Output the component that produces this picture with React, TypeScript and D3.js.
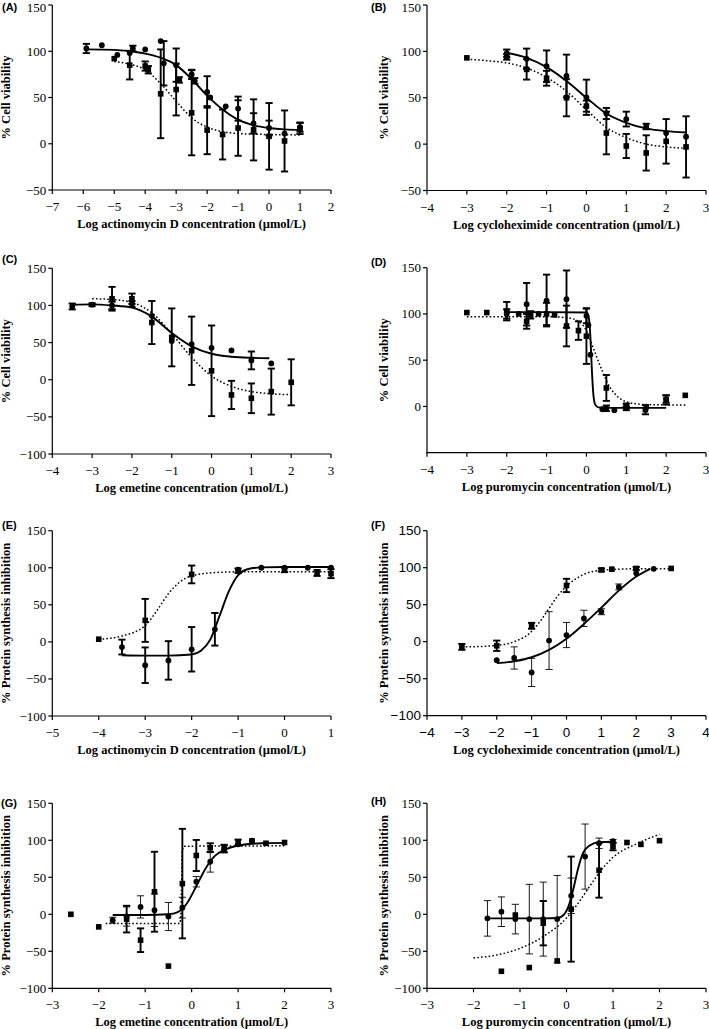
import React from 'react';
import * as d3 from 'd3';

type Pt = [number, number, number]; // [log conc, value, sd]
type Knot = [number, number];

// ---------- Panel A: actinomycin D viability ----------
const A_circles: Pt[] = [[-5.9,103,5],[-5.4,106.5,0],[-4.9,96,0],[-4.5,98,0],[-4.4,103,3],[-4,102,0],[-3.5,111,0],[-3.4,87,24],[-3,85,18],[-2.5,75,5],[-2.4,68,3],[-2,56,17],[-1.9,50,0],[-1.4,40.5,0],[-1,38,13],[-0.5,22,11],[0,17,8],[0.5,11,0],[1,18,5]];
const A_squares: Pt[] = [[-5,92,0],[-4.5,85,15.5],[-4,84,5],[-3.9,80,4],[-3.5,54,48],[-3,58.6,28],[-2.9,69,3],[-2.5,33.5,46],[-2,14.7,26],[-1.5,10,27],[-1,17,30],[-0.5,15,33],[0,8,36],[0.5,3,33],[1,16.5,6]];
const A_solid: Knot[] = [[-5.9,102],[-5,101.5],[-4.5,100],[-4,97.5],[-3.5,93],[-3,85],[-2.5,70],[-2,52],[-1.5,37],[-1,26],[-0.5,20],[0,17],[0.5,15.5],[1,15]];
const A_dotted: Knot[] = [[-5,89],[-4.5,86],[-4,80],[-3.5,65],[-3,46],[-2.5,28],[-2,18],[-1.5,13],[-1,11],[0,10],[1,9.5]];

// ---------- Panel B: cycloheximide viability ----------
const B_circles: Pt[] = [[-2,98,4],[-1.5,92,11],[-1,84,17],[-0.5,73.5,23],[0,50.5,19],[0.5,33,6],[1,27,8],[1.5,19,3],[2,12,0],[2.5,8,0]];
const B_squares: Pt[] = [[-3,93,0],[-2,94,3],[-1.5,80.6,11],[-1,71,8],[-0.5,50,20],[0,41,6],[0.5,12,23],[1,-2,13],[1.5,-9.5,19],[2,3,24],[2.5,-3,33]];
const B_solid: Knot[] = [[-2,98.5],[-1.5,93],[-1,83],[-0.5,68],[0,50],[0.5,33],[1,23],[1.5,17],[2,14],[2.5,12.5]];
const B_dotted: Knot[] = [[-3,91.5],[-2.5,90],[-2,87.5],[-1.5,82],[-1,72],[-0.5,57],[0,37],[0.5,18],[1,7],[1.5,0],[2,-3],[2.5,-4.5]];

// ---------- Panel C: emetine viability ----------
const C_circles: Pt[] = [[-3.5,98.6,4],[-3,101,2],[-2.5,100,5],[-2,102,4],[-1.5,86,0],[-1,52,0],[-0.5,48,0],[0,43,0],[0.5,39.5,0],[1,26,12],[1.5,22,0]];
const C_squares: Pt[] = [[-2.5,109,16],[-2,109,7],[-1.5,77,29],[-1,57,39],[-0.5,39,46],[0,12,61],[0.5,-20.5,19],[1,-25,20],[1.5,-16,31],[2,-3.5,31]];
const C_solid: Knot[] = [[-3.5,101],[-3,101.5],[-2.5,100],[-2,97],[-1.5,85],[-1,63],[-0.5,45],[0,35],[0.5,31],[1,29.5],[1.45,29]];
const C_dotted: Knot[] = [[-3,109],[-2.5,108],[-2,104],[-1.5,90],[-1,62],[-0.5,30],[0,5],[0.5,-9],[1,-16],[1.5,-19],[2,-20]];

// ---------- Panel D: puromycin viability ----------
const D_circles: Pt[] = [[-2,100,5],[-1.7,100,0],[-1.5,110.5,23],[-1.2,100,0],[-1,114.5,28],[-0.5,116,31],[0,98,8],[0.05,88,0],[0.1,56,0],[0.4,-3,0],[0.5,-2,3],[0.7,-4,0],[1,-2,2],[1.5,-1,0],[2,8,4]];
const D_squares: Pt[] = [[-3,101.5,0],[-2.5,101.5,0],[-2,103,10],[-1.5,92,8],[-1.4,99,4],[-1,100,12],[-0.8,99,0],[-0.5,87,22],[-0.2,82,10],[0,76,30],[0.5,20,14],[1,1,2],[1.48,-3.5,5],[2,7,5],[2.48,12,0]];
const D_solid: Knot[] = [[-2,102],[-1,102],[0,101.5],[0.05,98],[0.1,75],[0.13,45],[0.17,15],[0.22,2],[0.3,-1],[0.5,-1.5],[1,-1.5],[2,-1.5]];
const D_dotted: Knot[] = [[-3,97],[-1,97],[-0.5,96],[-0.2,92],[0,82],[0.2,60],[0.4,38],[0.6,20],[0.8,10],[1,5],[1.5,2],[2.5,1.5]];

// ---------- Panel E: actinomycin D protein synthesis ----------
const E_circles: Pt[] = [[-3.5,-7,10],[-3,-31.5,24],[-2.5,-25,26],[-2,-10,30],[-1.5,17,22],[-1,97.5,0],[-0.5,100,0],[0,100,0],[0.5,100,0],[1,100,0]];
const E_squares: Pt[] = [[-4,3.6,0],[-3,29,29],[-2,91,12],[-1,96,3],[0,97,3],[0.7,93,4],[1,92,6]];
const E_solid: Knot[] = [[-3.5,-18],[-3,-18.5],[-2.5,-18.5],[-2,-17],[-1.8,-12],[-1.6,3],[-1.4,35],[-1.2,68],[-1,90],[-0.8,98],[-0.5,100.5],[0,101],[1,101]];
const E_dotted: Knot[] = [[-4,3.5],[-3.5,8],[-3,22],[-2.75,42],[-2.5,65],[-2.25,81],[-2,89],[-1.5,93.5],[-1,94.5],[0,94.5],[1,94.5]];

// ---------- Panel F: cycloheximide protein synthesis ----------
const F_circles: Pt[] = [[-2,-25,0],[-1.5,-22,15],[-1,-41.5,19],[-0.5,1.5,39],[0,9,17],[0.5,31.5,11],[1,40.5,4],[1.5,74,4],[2,92.5,0],[2.5,98.5,0]];
const F_squares: Pt[] = [[-3,-7,4],[-2,-5.5,7],[-1,21.5,4],[0,76,9],[1,97,2],[1.3,98,0],[2,99,2],[3,99,0]];
const F_solid: Knot[] = [[-2,-29],[-1.5,-26.5],[-1,-21],[-0.5,-11],[0,4],[0.5,24],[1,46],[1.5,69],[2,88],[2.4,98.5]];
const F_dotted: Knot[] = [[-3,-7],[-2.5,-6.5],[-2,-5],[-1.5,0],[-1,14],[-0.75,28],[-0.5,45],[-0.25,62],[0,75],[0.5,91],[1,96.5],[2,98.5],[3,98.5]];

// ---------- Panel G: emetine protein synthesis ----------
const G_circles: Pt[] = [[-1.7,-8,4],[-1.4,-3,13],[-1.1,10,15],[-0.8,5.5,22],[-0.5,-3,19],[-0.2,9,14],[0.1,44,7],[0.4,71,14],[0.7,88,5],[1,94.5,0],[1.3,99.5,0]];
const G_squares: Pt[] = [[-2.6,0,0],[-2,-17,0],[-1.4,-6.5,18],[-1.1,-35,16],[-0.8,30.5,54],[-0.5,-70,0],[-0.2,41.5,74],[0.1,79.5,21],[0.4,90,6],[0.7,89,5],[1,97,4],[1.3,99,0],[1.6,96,0],[2,97,0]];
const G_solid: Knot[] = [[-1.7,-1],[-1,-1],[-0.5,0],[-0.3,3],[-0.1,15],[0.1,38],[0.3,62],[0.5,79],[0.7,87],[1,93],[1.5,96],[2,96.5]];
const G_dotted: Knot[] = [[-1.85,-12.6],[-0.26,-12.6],[-0.24,-8],[-0.22,30],[-0.2,85],[-0.17,92],[2,92.5]];

// ---------- Panel H: puromycin protein synthesis ----------
const H_circles: Pt[] = [[-1.7,-5.5,24],[-1.4,3.5,20],[-1.1,-6.5,20],[-0.8,-6.5,47],[-0.5,-6.5,50],[-0.2,-6.5,59],[0.1,25,24],[0.4,78,44],[0.7,96,7],[1,99,2]];
const H_squares: Pt[] = [[-1.4,-77,0],[-1.1,-1,0],[-0.8,-72,0],[-0.5,-12,30],[-0.2,-63,0],[0.1,7,71],[0.7,59.5,37],[1,91.5,5],[1.3,97,0],[1.6,94.5,0],[2,99.5,0]];
const H_solid: Knot[] = [[-1.7,-5.5],[-1,-5.5],[-0.5,-5.5],[-0.2,-5],[-0.05,0],[0.05,12],[0.15,35],[0.25,62],[0.35,82],[0.5,93],[0.7,97.5],[1,98]];
const H_dotted: Knot[] = [[-2,-59],[-1.5,-55],[-1,-46],[-0.5,-30],[0,-5],[0.25,15],[0.5,38],[0.75,60],[1,77],[1.5,95],[2,108]];

// ---------- axis ticks / titles ----------
const ticksA = [-7,-6,-5,-4,-3,-2,-1,0,1,2];
const ticksB = [-4,-3,-2,-1,0,1,2,3];
const ticksE = [-5,-4,-3,-2,-1,0,1];
const ticksF = [-4,-3,-2,-1,0,1,2,3,4];
const ticksGH = [-3,-2,-1,0,1,2,3];
const yTicksViab = [-50,0,50,100,150];
const yTicksViabD = [0,50,100,150];
const yTicksProt = [-100,-50,0,50,100,150];
const titleViab = '% Cell viability';
const titleProt = '% Protein synthesis inhibition';
const xTitles = [
  'Log actinomycin D concentration (\u00b5mol/L)',
  'Log cycloheximide concentration (\u00b5mol/L)',
  'Log emetine concentration (\u00b5mol/L)',
  'Log puromycin concentration (\u00b5mol/L)',
];

interface PanelCfg {
  letter: string;
  xDomain: [number, number];
  yDomain: [number, number];
  xTicks: number[];
  yTicks: number[];
  xTitle: string;
  yTitle: string;
  left: number; right: number; top: number; bottom: number;
  circles: Pt[]; squares: Pt[]; solid: Knot[]; dotted: Knot[];
  circleThin?: boolean;
  sansTicks?: boolean;
  letterX: number; letterY: number;
  yTitleX: number;
}

const LX0 = 52.3, LX1 = 331, RX0 = 427, RX1 = 706;

const panels: PanelCfg[] = [
  { letter: '(A)', xDomain: [-7, 2], yDomain: [-50, 150], xTicks: ticksA, yTicks: yTicksViab, xTitle: xTitles[0], yTitle: titleViab,
    left: LX0, right: LX1, top: 5, bottom: 190, circles: A_circles, squares: A_squares, solid: A_solid, dotted: A_dotted, letterX: 2, letterY: 11, yTitleX: 9.5 },
  { letter: '(B)', xDomain: [-4, 3], yDomain: [-50, 150], xTicks: ticksB, yTicks: yTicksViab, xTitle: xTitles[1], yTitle: titleViab,
    left: RX0, right: RX1, top: 5, bottom: 190.5, circles: B_circles, squares: B_squares, solid: B_solid, dotted: B_dotted, letterX: 371, letterY: 11, yTitleX: 388 },
  { letter: '(C)', xDomain: [-4, 3], yDomain: [-100, 150], xTicks: ticksB, yTicks: yTicksProt, xTitle: xTitles[2], yTitle: titleViab,
    left: LX0, right: LX1, top: 268.3, bottom: 454, circles: C_circles, squares: C_squares, solid: C_solid, dotted: C_dotted, letterX: 2, letterY: 263, yTitleX: 9.5 },
  { letter: '(D)', xDomain: [-4, 3], yDomain: [-50, 150], xTicks: ticksB, yTicks: yTicksViabD, xTitle: xTitles[3], yTitle: titleViab,
    left: RX0, right: RX1, top: 267.7, bottom: 452.7, circles: D_circles, squares: D_squares, solid: D_solid, dotted: D_dotted, letterX: 371, letterY: 266, yTitleX: 388 },
  { letter: '(E)', xDomain: [-5, 1], yDomain: [-100, 150], xTicks: ticksE, yTicks: yTicksProt, xTitle: xTitles[0], yTitle: titleProt,
    left: LX0, right: LX1, top: 530.7, bottom: 716, circles: E_circles, squares: E_squares, solid: E_solid, dotted: E_dotted, letterX: 2, letterY: 529, yTitleX: 9.5 },
  { letter: '(F)', xDomain: [-4, 4], yDomain: [-100, 150], xTicks: ticksF, yTicks: yTicksProt, xTitle: xTitles[1], yTitle: titleProt,
    left: RX0, right: RX1, top: 530.7, bottom: 715.7, circles: F_circles, squares: F_squares, solid: F_solid, dotted: F_dotted, circleThin: true, sansTicks: true, letterX: 371, letterY: 529, yTitleX: 388 },
  { letter: '(G)', xDomain: [-3, 3], yDomain: [-100, 150], xTicks: ticksGH, yTicks: yTicksProt, xTitle: xTitles[2], yTitle: titleProt,
    left: LX0, right: LX1, top: 803.3, bottom: 988.3, circles: G_circles, squares: G_squares, solid: G_solid, dotted: G_dotted, circleThin: true, letterX: 1, letterY: 807, yTitleX: 9.5 },
  { letter: '(H)', xDomain: [-3, 3], yDomain: [-100, 150], xTicks: ticksGH, yTicks: yTicksProt, xTitle: xTitles[3], yTitle: titleProt,
    left: RX0, right: RX1, top: 803.3, bottom: 988.3, circles: H_circles, squares: H_squares, solid: H_solid, dotted: H_dotted, circleThin: true, letterX: 371, letterY: 805, yTitleX: 388 },
];

const SERIF = '"Liberation Serif", "Times New Roman", serif';
const SANS = '"Liberation Sans", Arial, sans-serif';
const fmt = d3.format('');

function ErrorBars({ pts, x, y, thin }: { pts: Pt[]; x: d3.ScaleLinear<number, number>; y: d3.ScaleLinear<number, number>; thin?: boolean }) {
  const sw = thin ? 0.9 : 1.9;
  const cap = 3.6;
  return (
    <g stroke="#000" strokeWidth={sw} fill="none">
      {pts.filter(p => p[2] > 0).map((p, i) => {
        const cx = x(p[0]);
        const y1 = y(p[1] + p[2]);
        const y2 = y(p[1] - p[2]);
        return (
          <g key={i}>
            <line x1={cx} x2={cx} y1={y1} y2={y2} />
            <line x1={cx - cap} x2={cx + cap} y1={y1} y2={y1} />
            <line x1={cx - cap} x2={cx + cap} y1={y2} y2={y2} />
          </g>
        );
      })}
    </g>
  );
}

function Panel({ p }: { p: PanelCfg }) {
  const x = d3.scaleLinear().domain(p.xDomain).range([p.left, p.right]);
  const y = d3.scaleLinear().domain(p.yDomain).range([p.bottom, p.top]);
  const line = d3.line<Knot>().x(d => x(d[0])).y(d => y(d[1])).curve(d3.curveMonotoneX);
  const tickFont = p.sansTicks ? SANS : SERIF;
  const tickSize = p.sansTicks ? 13.5 : 13;
  const sq = 5.6;
  const midY = (p.top + p.bottom) / 2;
  return (
    <g>
      {/* fits */}
      <path d={line(p.dotted) || ''} fill="none" stroke="#000" strokeWidth={1.5} strokeDasharray="1.6 2.2" />
      <path d={line(p.solid) || ''} fill="none" stroke="#000" strokeWidth={1.9} />
      {/* error bars */}
      <ErrorBars pts={p.squares} x={x} y={y} />
      <ErrorBars pts={p.circles} x={x} y={y} thin={p.circleThin} />
      {/* markers */}
      {p.squares.map((d, i) => (
        <rect key={'s' + i} x={x(d[0]) - sq / 2} y={y(d[1]) - sq / 2} width={sq} height={sq} fill="#000" />
      ))}
      {p.circles.map((d, i) => (
        <circle key={'c' + i} cx={x(d[0])} cy={y(d[1])} r={2.9} fill="#000" />
      ))}
      {/* axes */}
      <g stroke="#000" strokeWidth={1.2}>
        <line x1={p.left} x2={p.left} y1={y(p.yDomain[1])} y2={p.bottom + 0.6} />
        <line x1={p.left - 0.6} x2={p.right} y1={p.bottom} y2={p.bottom} />
        {p.xTicks.map(t => (
          <line key={'xt' + t} x1={x(t)} x2={x(t)} y1={p.bottom} y2={p.bottom + 4} />
        ))}
        {p.yTicks.map(t => (
          <line key={'yt' + t} x1={p.left - 4} x2={p.left} y1={y(t)} y2={y(t)} />
        ))}
      </g>
      <g fontFamily={tickFont} fontSize={tickSize} fill="#000">
        {p.xTicks.map(t => (
          <text key={'xl' + t} x={x(t)} y={p.bottom + 21} textAnchor="middle">{fmt(t)}</text>
        ))}
        {p.yTicks.map(t => (
          <text key={'yl' + t} x={p.left - 6} y={Math.max(y(t) + 4.5, 12)} textAnchor="end">{fmt(t)}</text>
        ))}
      </g>
      <text x={(p.left + p.right) / 2} y={p.bottom + 38} textAnchor="middle" fontFamily={SERIF} fontWeight="bold" fontSize={12.5}>{p.xTitle}</text>
      <text transform={`translate(${p.yTitleX},${midY}) rotate(-90)`} textAnchor="middle" fontFamily={SERIF} fontWeight="bold" fontSize={12.5}>{p.yTitle}</text>
      <text x={p.letterX} y={p.letterY} fontFamily={SANS} fontWeight="bold" fontSize={11}>{p.letter}</text>
    </g>
  );
}

export default function App() {
  return (
    <div style={{ position: 'absolute', left: 0, top: 0, width: 709, height: 1029, background: '#fff' }}>
      <svg width={709} height={1029} viewBox="0 0 709 1029" style={{ display: 'block' }}>
        <rect x={0} y={0} width={709} height={1029} fill="#fff" />
        {panels.map(p => <Panel key={p.letter} p={p} />)}
      </svg>
    </div>
  );
}
